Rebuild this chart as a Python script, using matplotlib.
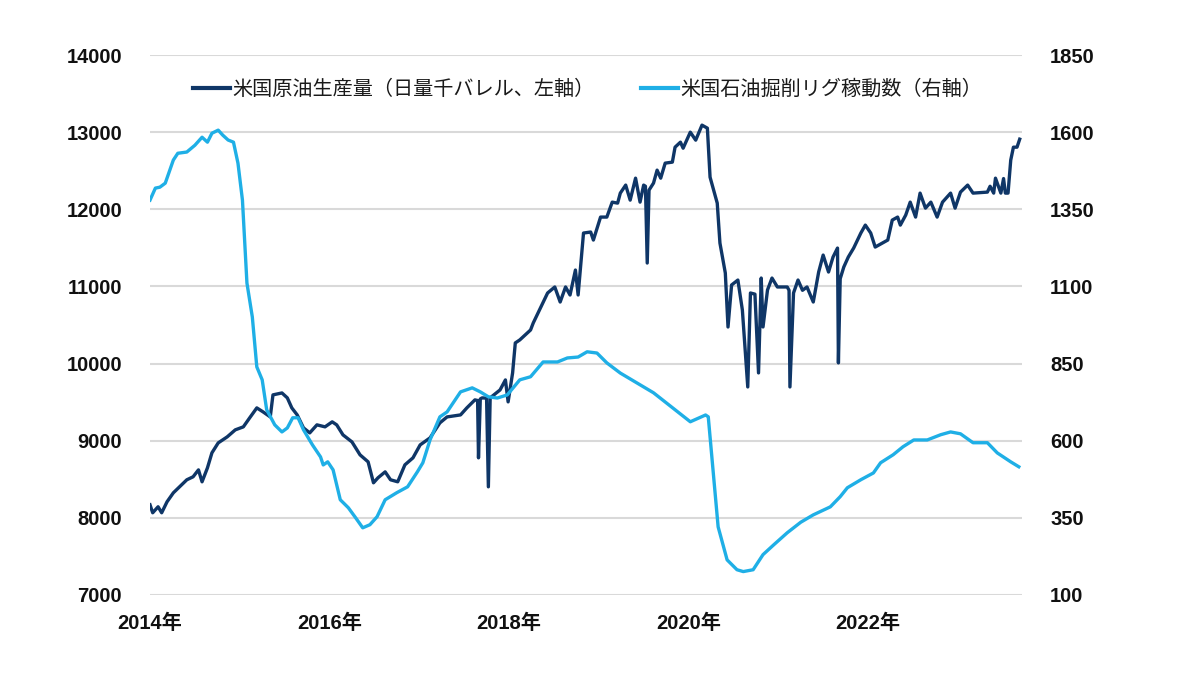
import matplotlib
matplotlib.use("Agg")
import matplotlib.pyplot as plt
from matplotlib.lines import Line2D

# ---- data (decimal year, value) ----
rig_t = [2014.00, 2014.06, 2014.11, 2014.17, 2014.26, 2014.31, 2014.41, 2014.50, 2014.58, 2014.64,
         2014.69, 2014.76, 2014.81, 2014.87, 2014.93, 2014.98, 2015.03, 2015.08, 2015.14, 2015.19,
         2015.25, 2015.30, 2015.39, 2015.47, 2015.53, 2015.59, 2015.65, 2015.71, 2015.81, 2015.90,
         2015.93, 2015.98, 2016.04, 2016.12, 2016.21, 2016.29, 2016.37, 2016.45, 2016.53, 2016.62,
         2016.75, 2016.87, 2016.98, 2017.04, 2017.12, 2017.23, 2017.31, 2017.46, 2017.59, 2017.68,
         2017.77, 2017.87, 2017.98, 2018.12, 2018.24, 2018.38, 2018.54, 2018.65, 2018.77, 2018.87,
         2018.98, 2019.09, 2019.24, 2019.61, 2020.02, 2020.19, 2020.22, 2020.28, 2020.33, 2020.43,
         2020.54, 2020.61, 2020.72, 2020.83, 2020.95, 2021.10, 2021.25, 2021.39, 2021.58, 2021.69,
         2021.77, 2021.92, 2022.06, 2022.14, 2022.28, 2022.39, 2022.51, 2022.66, 2022.81, 2022.92,
         2023.03, 2023.17, 2023.33, 2023.44, 2023.59, 2023.68]
rig_v = [1380, 1419, 1422, 1435, 1510, 1532, 1536, 1558, 1584, 1568,
         1597, 1607, 1591, 1575, 1568, 1500, 1380, 1111, 1001, 839,
         797, 700, 651, 628, 641, 674, 674, 635, 586, 547,
         521, 531, 505, 408, 382, 350, 317, 327, 353, 408,
         431, 450, 499, 528, 602, 677, 693, 758, 771, 758,
         742, 738, 748, 797, 807, 855, 855, 868, 871, 888,
         884, 852, 819, 755, 661, 683, 677, 482, 320, 213,
         181, 175, 181, 230, 262, 301, 335, 359, 385, 418,
         447, 473, 495, 528, 554, 580, 602, 602, 619, 628,
         622, 593, 593, 560, 531, 515]

prod_t = [2014.00, 2014.03, 2014.09, 2014.13, 2014.19, 2014.26, 2014.33, 2014.41, 2014.48, 2014.54,
          2014.58, 2014.64, 2014.69, 2014.76, 2014.86, 2014.95, 2015.04, 2015.11, 2015.19, 2015.26,
          2015.34, 2015.37, 2015.47, 2015.53, 2015.58, 2015.64, 2015.71, 2015.78, 2015.86, 2015.95,
          2016.03, 2016.08, 2016.15, 2016.25, 2016.34, 2016.43, 2016.49, 2016.54, 2016.62, 2016.68,
          2016.76, 2016.84, 2016.93, 2017.01, 2017.12, 2017.23, 2017.31, 2017.46, 2017.53, 2017.62,
          2017.65, 2017.66, 2017.68, 2017.70, 2017.75, 2017.77, 2017.79, 2017.90, 2017.96, 2017.99,
          2018.04, 2018.07, 2018.12, 2018.24, 2018.27, 2018.35, 2018.43, 2018.51, 2018.57, 2018.63,
          2018.68, 2018.74, 2018.77, 2018.83, 2018.91, 2018.94, 2019.02, 2019.09, 2019.15, 2019.21,
          2019.24, 2019.30, 2019.35, 2019.41, 2019.46, 2019.50, 2019.52, 2019.54, 2019.56, 2019.61,
          2019.65, 2019.69, 2019.74, 2019.82, 2019.85, 2019.91, 2019.94, 2020.02, 2020.08, 2020.15,
          2020.21, 2020.24, 2020.32, 2020.35, 2020.41, 2020.44, 2020.48, 2020.55, 2020.60, 2020.66,
          2020.69, 2020.74, 2020.78, 2020.81, 2020.83, 2020.88, 2020.93, 2020.99, 2021.10, 2021.12,
          2021.13, 2021.17, 2021.22, 2021.27, 2021.32, 2021.39, 2021.45, 2021.50, 2021.56, 2021.61,
          2021.66, 2021.67, 2021.69, 2021.73, 2021.78, 2021.84, 2021.92, 2021.97, 2022.03, 2022.08,
          2022.22, 2022.27, 2022.33, 2022.36, 2022.42, 2022.47, 2022.53, 2022.58, 2022.64, 2022.70,
          2022.77, 2022.83, 2022.92, 2022.97, 2023.03, 2023.11, 2023.17, 2023.33, 2023.36, 2023.40,
          2023.42, 2023.48, 2023.51, 2023.53, 2023.56, 2023.59, 2023.62, 2023.66, 2023.69]
prod_v = [8167, 8063, 8141, 8063, 8206, 8322, 8400, 8491, 8530, 8620,
          8465, 8646, 8841, 8970, 9048, 9139, 9178, 9294, 9424, 9372,
          9307, 9593, 9618, 9554, 9424, 9333, 9165, 9100, 9204, 9178,
          9243, 9204, 9074, 8983, 8815, 8724, 8452, 8517, 8594, 8491,
          8465, 8685, 8776, 8944, 9035, 9230, 9307, 9333, 9424, 9528,
          9520, 8776, 9540, 9554, 9550, 8400, 9554, 9657, 9787, 9502,
          9878, 10267, 10306, 10435, 10526, 10720, 10915, 10993, 10798, 10993,
          10889, 11213, 10889, 11693, 11706, 11602, 11900, 11900, 12094, 12081,
          12211, 12315, 12120, 12405, 12094, 12315, 12300, 11304, 12250, 12341,
          12509, 12405, 12600, 12613, 12807, 12872, 12794, 13002, 12898, 13093,
          13054, 12418, 12081, 11563, 11174, 10474, 11019, 11083, 10694, 9696,
          10915, 10900, 9878, 11109, 10474, 10954, 11109, 10993, 10993, 10950,
          9696, 10915, 11083, 10950, 10993, 10798, 11187, 11407, 11187, 11381,
          11498, 10008, 11100, 11252, 11381, 11498, 11693, 11796, 11693, 11511,
          11602, 11861, 11900, 11796, 11926, 12094, 11900, 12211, 12016, 12094,
          11900, 12094, 12211, 12016, 12224, 12315, 12211, 12224, 12300, 12211,
          12405, 12211, 12400, 12211, 12211, 12639, 12807, 12807, 12911]

year_ticks = [2014, 2016, 2018, 2020, 2022]
year_labels = ["2014年", "2016年", "2018年", "2020年", "2022年"]
left_ticks = [7000, 8000, 9000, 10000, 11000, 12000, 13000, 14000]
right_ticks = [100, 350, 600, 850, 1100, 1350, 1600, 1850]
label_prod = "米国原油生産量（日量千バレル、左軸）"
label_rig = "米国石油掘削リグ稼動数（右軸）"

C_DARK = "#0f3667"
C_LIGHT = "#1fafe6"
TFONT = ["Liberation Sans", "Noto Sans CJK JP"]
LFONT = ["Noto Sans CJK JP", "DejaVu Sans"]

fig = plt.figure(figsize=(12, 6.82), dpi=100)
ax = fig.add_axes([0.125, 0.128, 0.727, 0.791])
ax2 = ax.twinx()

ax.plot(prod_t, prod_v, color=C_DARK, lw=2.4, solid_joinstyle="round")
ax2.plot(rig_t, rig_v, color=C_LIGHT, lw=2.4, solid_joinstyle="round")

ax.set_xlim(2014.0, 2023.72)
ax.set_ylim(7000, 14000)
ax2.set_ylim(100, 1850)
ax.set_yticks(left_ticks)
ax2.set_yticks(right_ticks)
ax.set_xticks(year_ticks)
ax.set_xticklabels(year_labels)

ax.grid(axis="y", color="#d9d9d9", lw=1.5)
ax.set_axisbelow(True)
for a in (ax, ax2):
    for s in a.spines.values():
        s.set_visible(False)
    a.tick_params(length=0)

for lab in ax.get_yticklabels() + ax2.get_yticklabels() + ax.get_xticklabels():
    lab.set_fontfamily(TFONT)
    lab.set_fontweight("bold")
    lab.set_fontsize(14.5)
    lab.set_color("#111111")
ax.tick_params(axis="y", pad=20)
ax2.tick_params(axis="y", pad=20)
ax.tick_params(axis="x", pad=14)

handles = [Line2D([], [], color=C_DARK, lw=3), Line2D([], [], color=C_LIGHT, lw=3)]
leg = ax.legend(handles, [label_prod, label_rig], loc="upper center",
                bbox_to_anchor=(0.502, 0.99), ncol=2, frameon=False,
                prop={"family": LFONT, "size": 14.5}, handlelength=1.8,
                handletextpad=0.15, columnspacing=2.3)
for t in leg.get_texts():
    t.set_color("#1a1a1a")

fig.savefig("out.png", dpi=100, facecolor="white")
